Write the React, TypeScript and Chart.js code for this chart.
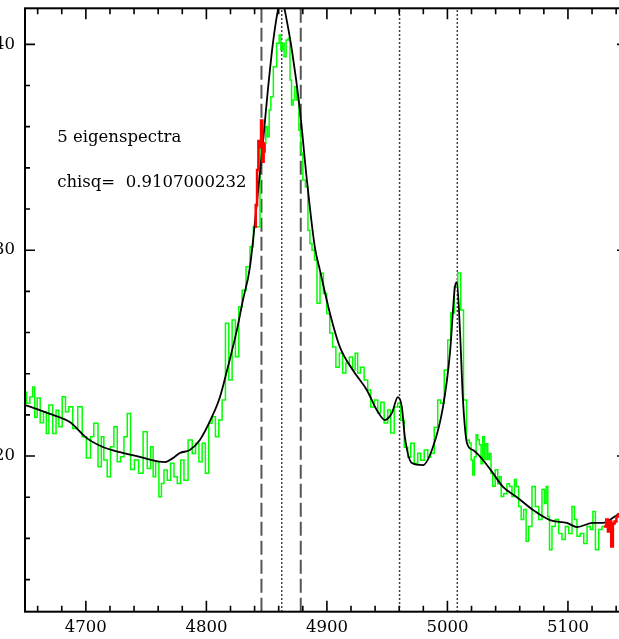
import React, { useEffect, useRef } from "react";
import { Chart, registerables } from "chart.js";

Chart.register(...registerables);

// Axis ranges and tick labels
const X_MIN = 4649.5;
const X_MAX = 5149;
const Y_MIN = 12.44;
const Y_MAX = 41.75;
const X_TICKS = [4700, 4800, 4900, 5000, 5100];
const Y_TICKS = [20, 30, 40];
const X_MINOR = 20;
const Y_MINOR = 2;

// Observed spectrum (green)
const SPEC_WAVE = [
  4649.5, 4652.1, 4654.9, 4656.9, 4658.2, 4661.0, 4663.2, 4666.5, 4667.9, 4670.7,
  4674.3, 4676.2, 4679.0, 4681.7, 4684.5, 4687.3, 4690.9, 4695.6, 4698.3, 4702.5,
  4705.2, 4708.0, 4712.2, 4713.5, 4716.3, 4719.1, 4721.8, 4724.7, 4727.4, 4730.2,
  4733.0, 4735.7, 4738.5, 4742.1, 4745.4, 4749.6, 4752.3, 4755.1, 4756.5, 4759.2,
  4762.0, 4763.4, 4766.2, 4768.9, 4771.7, 4774.5, 4777.2, 4780.0, 4782.8, 4786.9,
  4789.6, 4792.4, 4795.2, 4797.8, 4800.5, 4803.4, 4806.1, 4808.9, 4811.7, 4814.4,
  4817.2, 4820.0, 4822.7, 4825.5, 4828.3, 4831.0, 4834.8, 4837.6, 4840.4,
  4848.6, 4850.0, 4851.4, 4852.8, 4854.2, 4856.9, 4859.7, 4861.1, 4862.5, 4863.8,
  4865.2, 4867.1, 4868.8, 4870.0, 4871.3, 4872.7, 4874.1, 4875.8, 4877.7, 4879.1,
  4881.0, 4883.3, 4885.2, 4886.6, 4888.7, 4890.7, 4892.9, 4895.7, 4898.5, 4901.2,
  4903.5, 4906.0, 4908.9, 4911.8, 4914.3, 4917.2, 4920.1, 4922.6, 4924.3, 4926.7,
  4929.2, 4932.6, 4935.1, 4937.6, 4940.9, 4943.4, 4945.8, 4949.2, 4951.7, 4954.2,
  4957.5, 4960.0, 4962.5, 4965.8, 4968.3, 4970.8, 4974.1, 4976.6, 4979.1, 4982.4,
  4984.9, 4987.4, 4990.7, 4993.2, 4995.7, 4999.0, 5001.5, 5004.0, 5007.3, 5009.8,
  5012.3, 5014.4, 5017.3, 5018.9, 5020.4, 5021.7, 5023.1, 5024.5, 5025.8, 5027.2,
  5028.6, 5030.0, 5031.4, 5032.8, 5034.1, 5035.5, 5036.9, 5038.2, 5041.1, 5042.4,
  5043.9, 5045.3, 5048.0, 5050.8, 5052.2, 5054.9, 5056.4, 5057.7, 5060.5, 5061.9,
  5064.6, 5066.0, 5068.8, 5071.5, 5074.4, 5077.1, 5079.8, 5081.2, 5082.6, 5084.0,
  5085.4, 5088.1, 5090.9, 5093.7, 5096.4, 5099.3, 5102.0, 5104.7, 5106.1, 5108.9,
  5111.7, 5114.5, 5117.2, 5120.0, 5121.4, 5124.2, 5126.9, 5129.7,
];
const SPEC_FLUX = [
  23.11, 22.57, 22.87, 23.35, 21.89, 22.82, 21.62, 22.15, 21.10, 22.48,
  21.10, 22.23, 21.42, 22.88, 22.15, 22.40, 21.34, 22.40, 20.94, 19.90,
  20.94, 21.59, 19.48, 20.94, 19.81, 18.99, 20.45, 21.42, 19.72, 19.97,
  20.94, 22.07, 19.35, 19.81, 19.16, 21.18, 19.40, 20.45, 18.99, 19.72,
  18.02, 18.67, 19.32, 18.83, 19.65, 18.99, 18.67, 19.81, 18.83, 20.78,
  20.13, 20.62, 19.72, 20.62, 19.16, 21.59, 21.91, 20.94, 21.75, 22.72,
  26.45, 23.69, 26.61, 24.82, 27.25, 28.06, 29.20, 30.17, 31.14,
  35.20, 36.00, 35.51, 36.81, 37.45, 38.91, 40.05, 40.45, 39.72, 40.05,
  39.40, 40.21, 40.29, 38.27, 37.05, 37.29, 37.94, 37.29, 35.83, 34.72,
  33.41, 33.08, 30.97, 30.33, 30.00, 29.52, 27.42, 28.88, 27.90, 26.93,
  25.98, 25.30, 24.32, 25.00, 24.03, 24.52, 24.81, 24.18, 25.00, 24.03,
  24.32, 23.69, 23.21, 22.38, 22.72, 22.09, 22.62, 21.60, 22.24, 21.12,
  22.38, 22.57, 21.74, 20.43, 19.94, 20.62, 19.65, 20.14, 19.80, 20.29,
  19.94, 20.14, 21.40, 22.72, 22.57, 24.18, 25.64, 26.95, 28.21, 28.89,
  27.09, 22.72, 20.78, 20.63, 19.81, 19.08, 19.97, 21.04, 20.79, 20.55,
  19.63, 20.94, 19.83, 20.60, 19.83, 20.13, 19.16, 18.53, 19.34, 18.66,
  19.00, 18.03, 18.17, 18.66, 18.52, 18.03, 18.86, 18.52, 17.55, 16.92,
  17.41, 15.86, 16.58, 18.52, 17.55, 16.92, 18.38, 17.70, 18.52, 17.06,
  15.45, 16.58, 16.92, 16.24, 15.95, 16.58, 16.24, 17.55, 16.92, 16.10,
  16.24, 15.75, 16.58, 16.43, 17.31, 15.45, 16.43, 16.58,
];

// Masked pixels (red)
const MASK_A_WAVE = [4840.4, 4841.5, 4842.6, 4843.7, 4844.8, 4845.9, 4847.0, 4848.0, 4848.6];
const MASK_A_FLUX = [31.14, 32.2, 33.9, 35.3, 35.0, 36.3, 34.3, 34.8, 35.2];
const MASK_B_WAVE = [5129.7, 5131.1, 5132.5, 5133.8, 5135.2, 5136.6, 5138.0, 5139.4, 5141.0, 5142.7, 5145.0, 5149.0];
const MASK_B_FLUX = [16.58, 16.58, 16.92, 16.33, 16.82, 15.61, 16.73, 16.82, 17.07, 17.17, 17.3, 17.5];

// Eigenspectrum fit (black)
const MODEL_WAVE = [
  4649.5, 4661.8, 4672.6, 4686.7, 4700.8, 4714.1, 4728.2, 4742.3, 4751.5, 4765.6,
  4772.2, 4778.0, 4786.3, 4794.6, 4804.6, 4811.2, 4817.8, 4825.3, 4830.3, 4836.1,
  4842.7, 4846.9, 4851.0, 4855.2, 4859.3, 4862.3, 4865.1, 4871.0, 4877.6, 4883.4,
  4890.0, 4894.2, 4902.5, 4910.8, 4921.6, 4933.2, 4941.5, 4948.1, 4953.9, 4958.9,
  4962.2, 4964.7, 4970.5, 4979.7, 4988.0, 4996.3, 5002.1, 5006.2, 5007.9, 5010.4,
  5012.9, 5016.2, 5021.2, 5029.5, 5037.8, 5046.1, 5057.7, 5071.0, 5085.1, 5099.2,
  5107.5, 5120.7, 5129.0, 5140.7, 5149.0,
];
const MODEL_FLUX = [
  22.48, 22.23, 22.00, 21.65, 20.87, 20.44, 20.19, 20.00, 19.85, 19.71,
  19.90, 20.15, 20.29, 20.78, 21.90, 22.86, 24.32, 26.12, 27.57, 29.17,
  32.77, 35.20, 37.77, 40.05, 41.65, 42.40, 41.65, 39.70, 36.80, 33.40,
  30.15, 29.03, 26.94, 25.29, 24.17, 23.20, 22.23, 21.75, 22.09, 22.86,
  22.38, 20.92, 19.66, 19.56, 20.44, 22.38, 25.00, 28.20, 28.45, 26.10,
  22.72, 20.63, 20.29, 19.81, 19.17, 18.50, 18.00, 17.38, 16.89, 16.75,
  16.55, 16.75, 16.75, 17.14, 17.45,
];

// Reference wavelengths
const DASHED_LINES = [4845.7, 4878.3];
const DOTTED_LINES = [4862.5, 4960.3, 5008.2];

// Annotations
const NOTES = ["5 eigenspectra", "chisq=  0.9107000232"];
const NOTE_X = 4676.2;
const NOTE_Y = [35.25, 33.09];

const FONT_FAMILY = '"DejaVu Serif", serif';
const FONT_SIZE = 16.5;

const pairs = (xs: number[], ys: number[]) => xs.map((x, i) => ({ x, y: ys[i] }));

const framePlugin = {
  id: "pgframe",
  afterDraw(chart: any) {
    const { ctx, chartArea: a, scales } = chart;
    const xs = scales.x;
    const ys = scales.y;
    ctx.save();
    ctx.strokeStyle = "#000";
    ctx.lineWidth = 2;
    ctx.strokeRect(a.left, a.top, a.right - a.left, a.bottom - a.top);
    ctx.lineWidth = 1.6;
    ctx.beginPath();
    for (let v = Math.ceil(X_MIN / X_MINOR) * X_MINOR; v <= X_MAX; v += X_MINOR) {
      const p = xs.getPixelForValue(v);
      const len = v % 100 === 0 ? 11 : 6;
      ctx.moveTo(p, a.bottom);
      ctx.lineTo(p, a.bottom - len);
      ctx.moveTo(p, a.top);
      ctx.lineTo(p, a.top + len);
    }
    for (let v = Math.ceil(Y_MIN / Y_MINOR) * Y_MINOR; v <= Y_MAX; v += Y_MINOR) {
      const p = ys.getPixelForValue(v);
      const len = v % 10 === 0 ? 10 : 5;
      ctx.moveTo(a.left, p);
      ctx.lineTo(a.left + len, p);
      ctx.moveTo(a.right, p);
      ctx.lineTo(a.right - len, p);
    }
    ctx.stroke();
    ctx.fillStyle = "#000";
    ctx.font = `${FONT_SIZE}px ${FONT_FAMILY}`;
    ctx.textAlign = "left";
    ctx.textBaseline = "alphabetic";
    NOTES.forEach((t, i) => {
      ctx.fillText(t, xs.getPixelForValue(NOTE_X), ys.getPixelForValue(NOTE_Y[i]));
    });
    ctx.restore();
  },
};

export default function App() {
  const ref = useRef<HTMLCanvasElement | null>(null);
  useEffect(() => {
    if (!ref.current) return;
    const vline = (v: number, dashed: boolean) => ({
      data: [{ x: v, y: Y_MIN }, { x: v, y: Y_MAX }],
      borderColor: dashed ? "#555555" : "#000000",
      borderWidth: dashed ? 2 : 1.5,
      borderDash: dashed ? [14, 5] : [1.5, 2.5],
      pointRadius: 0,
      order: 3,
    });
    const chart = new Chart(ref.current, {
      type: "line",
      data: {
        datasets: [
          { data: pairs(MASK_A_WAVE, MASK_A_FLUX), borderColor: "#ff0000", borderWidth: 2.5, stepped: "middle", pointRadius: 0, order: 0 },
          { data: pairs(MASK_B_WAVE, MASK_B_FLUX), borderColor: "#ff0000", borderWidth: 2.5, stepped: "middle", pointRadius: 0, order: 0 },
          { data: pairs(MODEL_WAVE, MODEL_FLUX), borderColor: "#000000", borderWidth: 1.8, pointRadius: 0, cubicInterpolationMode: "monotone", order: 1 },
          { data: pairs(SPEC_WAVE, SPEC_FLUX), borderColor: "#00ff00", borderWidth: 1.5, stepped: "middle", pointRadius: 0, order: 2 },
          ...DASHED_LINES.map((v) => vline(v, true)),
          ...DOTTED_LINES.map((v) => vline(v, false)),
        ] as any,
      },
      options: {
        animation: false,
        responsive: false,
        devicePixelRatio: 1,
        layout: { padding: { top: 8.3, right: 23, bottom: 0, left: 0 } },
        plugins: { legend: { display: false }, tooltip: { enabled: false } },
        events: [],
        scales: {
          x: {
            type: "linear",
            min: X_MIN,
            max: X_MAX,
            grid: { display: false, drawTicks: false },
            border: { display: false },
            afterBuildTicks: (s: any) => {
              s.ticks = X_TICKS.map((v) => ({ value: v }));
            },
            afterFit: (s: any) => {
              s.height = 27.3;
              s.paddingLeft = 0;
              s.paddingRight = 0;
            },
            ticks: {
              font: { family: FONT_FAMILY, size: FONT_SIZE },
              color: "#000",
              padding: 6,
              maxRotation: 0,
              autoSkip: false,
              callback: (v: any) => String(v),
            },
          },
          y: {
            type: "linear",
            min: Y_MIN,
            max: Y_MAX,
            grid: { display: false, drawTicks: false },
            border: { display: false },
            afterBuildTicks: (s: any) => {
              s.ticks = Y_TICKS.map((v) => ({ value: v }));
            },
            afterFit: (s: any) => {
              s.width = 25;
              s.paddingTop = 0;
              s.paddingBottom = 0;
            },
            ticks: {
              font: { family: FONT_FAMILY, size: FONT_SIZE },
              color: "#000",
              padding: 10,
              autoSkip: false,
              callback: (v: any) => String(v),
            },
          },
        },
      } as any,
      plugins: [framePlugin],
    });
    return () => chart.destroy();
  }, []);
  return (
    <div style={{ position: "fixed", left: 0, top: 0, width: 619, height: 639, overflow: "hidden", background: "#fff" }}>
      <canvas ref={ref} width={650} height={639} style={{ display: "block", width: 650, height: 639 }} />
    </div>
  );
}
